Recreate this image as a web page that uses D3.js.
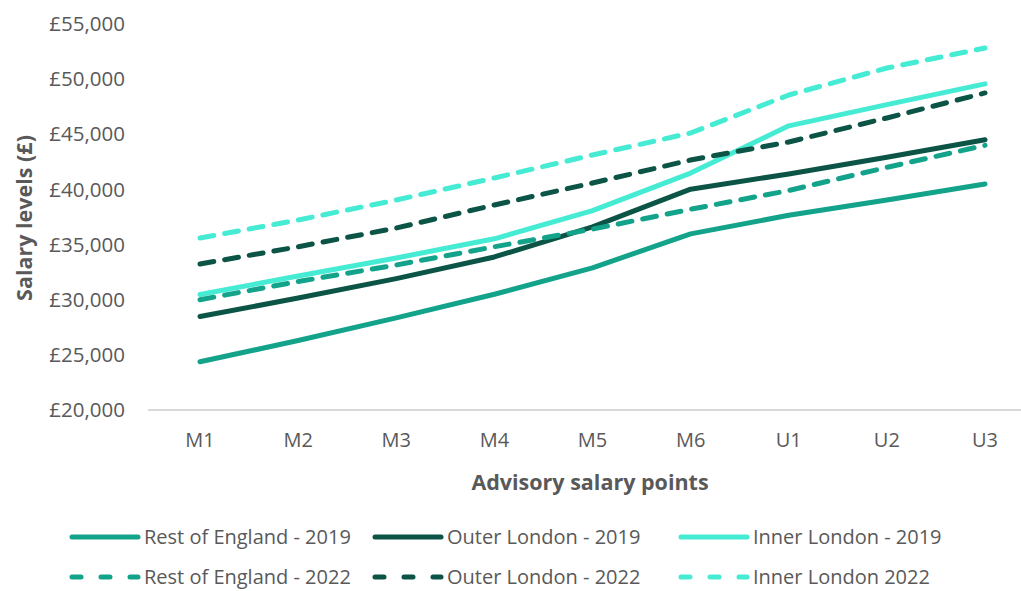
<!DOCTYPE html>
<html><head><meta charset="utf-8">
<script src="https://cdn.jsdelivr.net/npm/d3@7"></script>
<style>
body{margin:0;background:#fff;}
text{font-family:"Open Sans","Noto Sans",sans-serif;fill:#595959;}
</style></head>
<body><svg id="c" width="1021" height="591"></svg>
<script>
const categories = ["M1","M2","M3","M4","M5","M6","U1","U2","U3"];
const restOfEngland2019 = [24373,26298,28352,30492,32890,35971,37654,39049,40490];
const outerLondon2019   = [28474,30152,31913,33879,36599,40021,41404,42921,44508];
const innerLondon2019   = [30480,32148,33786,35522,38072,41483,45766,47690,49571];
const restOfEngland2022 = [30000,31650,33150,34800,36400,38200,39900,42000,44000];
const outerLondon2022   = [33240,34800,36500,38590,40580,42670,44300,46480,48750];
const innerLondon2022   = [35600,37230,39040,41040,43120,45120,48560,51010,52830];
const yTicks = [20000,25000,30000,35000,40000,45000,50000,55000];

const seriesNames = ["Rest of England - 2019","Outer London - 2019","Inner London - 2019",
                     "Rest of England - 2022","Outer London - 2022","Inner London 2022"];
const seriesValues = [restOfEngland2019,outerLondon2019,innerLondon2019,
                      restOfEngland2022,outerLondon2022,innerLondon2022];
const colors = ["#13a38b","#0b5446","#46ebd4","#13a38b","#0b5446","#46ebd4"];
const dashed = [false,false,false,true,true,true];

const svg = d3.select("#c");
const x = d3.scalePoint().domain(categories).range([200,985]);
const y = d3.scaleLinear().domain([20000,55000]).range([410,24]);

// y axis labels
const fmt = v => "£" + d3.format(",")(v);
svg.append("g").selectAll("text").data(yTicks).join("text")
  .attr("x",125).attr("y",d=>y(d)).attr("dy","0.35em")
  .attr("text-anchor","end").style("font-size","20.5px").text(fmt);

// x axis line
svg.append("line").attr("x1",148).attr("x2",1034).attr("y1",y(20000)).attr("y2",y(20000))
  .attr("stroke","#d9d9d9").attr("stroke-width",2);

// x labels
svg.append("g").selectAll("text").data(categories).join("text")
  .attr("x",d=>x(d)).attr("y",440).attr("dy","0.35em")
  .attr("text-anchor","middle").style("font-size","20px").text(d=>d);

// titles
svg.append("text").attr("x",590).attr("y",482).attr("dy","0.35em").attr("text-anchor","middle")
  .style("font-size","21.5px").style("font-weight","bold").text("Advisory salary points");
svg.append("text").attr("transform","translate(24,218) rotate(-90)").attr("dy","0.35em")
  .attr("text-anchor","middle").style("font-size","21.5px").style("font-weight","bold")
  .text("Salary levels (£)");

// lines
const line = d3.line().x((d,i)=>x(categories[i])).y(d=>y(d));
seriesValues.forEach((vals,k)=>{
  svg.append("path").datum(vals).attr("d",line).attr("fill","none")
    .attr("stroke",colors[k]).attr("stroke-width",5).attr("stroke-linecap","round")
    .attr("stroke-linejoin","round")
    .attr("stroke-dasharray",dashed[k]?"14,11":null);
});

// legend
const legX = [69,372,678];
const legY = [537,577];
seriesNames.forEach((name,k)=>{
  const cx = legX[k%3], cy = legY[Math.floor(k/3)];
  svg.append("line").attr("x1",cx+3).attr("x2",cx+69).attr("y1",cy).attr("y2",cy)
    .attr("stroke",colors[k]).attr("stroke-width",5).attr("stroke-linecap","round")
    .attr("stroke-dasharray",dashed[k]?"9,20":null);
  svg.append("text").attr("x",cx+75).attr("y",cy).attr("dy","0.35em")
    .style("font-size","20px").text(name);
});
</script></body></html>
